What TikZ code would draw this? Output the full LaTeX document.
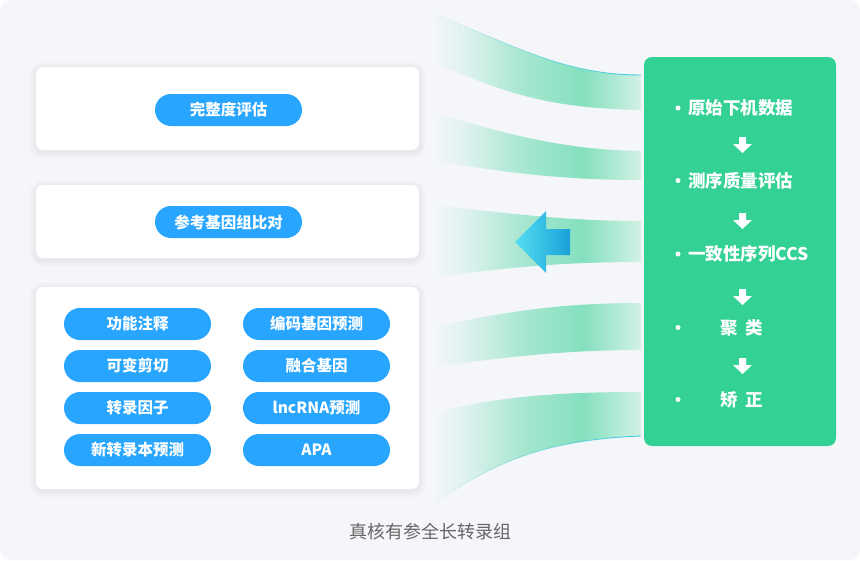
\documentclass[tikz,border=0pt]{standalone}
\usepackage{fontspec}
\setmainfont{Noto Sans CJK SC}
\usepackage{tikz}
\usetikzlibrary{positioning}
\usetikzlibrary{shapes.misc}
\usetikzlibrary{fadings}
\definecolor{bgc}{HTML}{F5F6FA}
\definecolor{pillblue}{HTML}{28A5FE}
\definecolor{stepgreen}{HTML}{33D194}
\definecolor{rib}{HTML}{84E0BE}
\definecolor{ribend}{HTML}{D2F1E5}
\definecolor{edgecyan}{HTML}{3CCBDF}
\definecolor{arrowlight}{HTML}{55DEF2}
\definecolor{arrowdark}{HTML}{18A0D8}
\definecolor{captiongray}{HTML}{666666}
\pgfdeclarehorizontalshading{ribbonfade}{100bp}{color(0bp)=(bgc); color(25bp)=(bgc); color(33bp)=(rib!20!bgc); color(47bp)=(rib!70!bgc); color(61bp)=(rib); color(75bp)=(ribend); color(100bp)=(ribend)}

\begin{document}
\begin{tikzpicture}[x=1pt,y=-1pt,
  panel/.style={fill=white, rounded corners=7pt, minimum width=383pt, inner sep=0pt},
  pill/.style={rounded rectangle, fill=pillblue, text=white, minimum width=147pt, minimum height=32pt,
    inner sep=0pt, font=\fontsize{15.5}{18}\selectfont\bfseries},
  steptext/.style={text=white, inner sep=0pt, font=\fontsize{17.5}{20}\selectfont\bfseries},
  stepdot/.style={circle, fill=white, inner sep=0pt, minimum size=5pt},
  ribbon/.style={shading=ribbonfade},
  edgeline/.style={edgecyan, line width=0.9pt, path fading=west}]
\useasboundingbox (0,0) rectangle (860,560);
\fill[bgc, rounded corners=10pt] (0,0) rectangle (860,560);

% soft shadows of the panels
\foreach \ta/\tb in {67/150,185/258,287/489}
  \foreach \s in {1,...,7}
    \fill[black, opacity=0.009, rounded corners={(7+\s)*1pt}] (36-\s,\ta-\s+2) rectangle (419+\s,\tb+\s+2);

% left panels
\node[panel, minimum height=83pt] (panelA) at (227.5,108.5) {};
\node[panel, minimum height=73pt] (panelB) at (227.5,221.5) {};
\node[panel, minimum height=202pt] (panelC) at (227.5,388) {};

\node[pill] (integrity) at (228.5,110) {完整度评估};
\node[pill] (align) at (228.5,222) {参考基因组比对};

\node[pill] (annot) at (137.5,324) {功能注释};
\node[pill] (splice) at (137.5,366) {可变剪切};
\node[pill] (tf) at (137.5,408) {转录因子};
\node[pill] (novel) at (137.5,450) {新转录本预测};
\node[pill] (coding) at (316.5,324) {编码基因预测};
\node[pill] (fusion) at (316.5,366) {融合基因};
\node[pill] (lnc) at (316.5,408) {lncRNA预测};
\node[pill] (apa) at (316.5,450) {APA};

% ribbons
\shade[ribbon] (432,14) .. controls (510,42) and (560,75) .. (641,75)
  -- (641,110) .. controls (540,108) and (500,90) .. (432,62) -- cycle;
\shade[ribbon] (432,112) .. controls (500,132) and (560,150) .. (641,151)
  -- (641,180) .. controls (560,180) and (500,172) .. (432,160) -- cycle;
\shade[ribbon] (432,205) .. controls (500,212) and (560,221) .. (641,221)
  -- (641,262) .. controls (560,262) and (500,268) .. (432,278) -- cycle;
\shade[ribbon] (432,328) .. controls (500,312) and (560,303) .. (641,303)
  -- (641,350) .. controls (560,350) and (500,358) .. (432,367) -- cycle;
\shade[ribbon] (432,413) .. controls (500,396) and (560,392) .. (641,392)
  -- (641,436) .. controls (540,440) and (490,465) .. (432,505) -- cycle;
\draw[edgeline] (432,14) .. controls (510,42) and (560,75) .. (641,75);
\draw[edgeline] (432,505) .. controls (490,465) and (540,440) .. (641,436);

% blue arrow
\shade[left color=arrowlight, right color=arrowdark] (515,242) -- (546,211) -- (546,229)
  -- (570,229) -- (570,255) -- (546,255) -- (546,273) -- cycle;

% workflow panel
\node[fill=stepgreen, rounded corners=8pt, minimum width=192pt, minimum height=389pt] (flow) at (740,251.5) {};
\node[steptext, anchor=west] (step1) at (688,108) {原始下机数据};
\node[steptext, anchor=west] (step2) at (688,180.5) {测序质量评估};
\node[steptext, anchor=west] (step3) at (688,254) {一致性序列CCS};
\node[steptext] (step4) at (741.5,327.5) {聚\hspace{8pt}类};
\node[steptext] (step5) at (741.5,399.5) {矫\hspace{8pt}正};
\foreach \i/\y in {1/108,2/180.5,3/254,4/327.5,5/399.5}
  \node[stepdot] (dot\i) at (678,\y) {};
\foreach \y in {145,221,297,366}
  \fill[white] (739,\y-8) -- (746,\y-8) -- (746,\y-1) -- (752,\y-1) -- (742.5,\y+8)
    -- (733,\y-1) -- (739,\y-1) -- cycle;

\node[text=captiongray, font=\fontsize{18}{21}\selectfont] (caption) at (430,532) {真核有参全长转录组};
\end{tikzpicture}
\end{document}
